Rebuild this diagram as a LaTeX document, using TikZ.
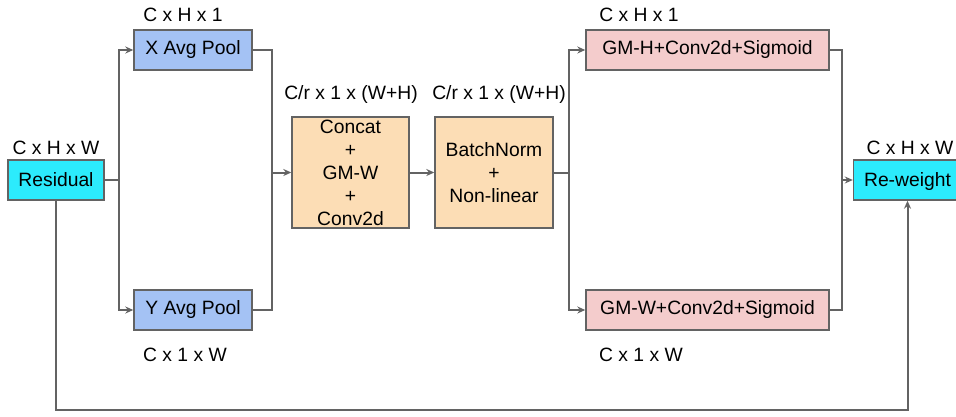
\documentclass[tikz,border=0pt]{standalone}
\usepackage{fontspec}
\setmainfont{Liberation Sans}
\usetikzlibrary{arrows.meta}
\definecolor{cyanbox}{HTML}{2CEBFC}
\definecolor{bluebox}{HTML}{A4C2F4}
\definecolor{orangebox}{HTML}{FCDDB5}
\definecolor{pinkbox}{HTML}{F4CCCC}
\definecolor{linegray}{HTML}{636363}
\begin{document}
\begin{tikzpicture}[x=1pt,y=-1pt,
  box/.style={draw=linegray,line width=1.4pt,inner sep=0pt,align=center,
    font=\fontsize{19.3}{23}\selectfont},
  lbl/.style={inner sep=0pt,font=\fontsize{19.3}{23}\selectfont},
  conn/.style={draw=linegray,line width=2pt},
  arr/.style={conn,-{Stealth[length=8pt,width=7pt]}}]
\useasboundingbox (0,0) rectangle (956,416);
\node[box,fill=cyanbox,minimum width=96pt,minimum height=40pt] (res) at (56,180) {Residual};
\node[box,fill=bluebox,minimum width=118pt,minimum height=40pt] (xp) at (193,50) {X Avg Pool};
\node[box,fill=bluebox,minimum width=118pt,minimum height=40pt] (yp) at (193,310) {Y Avg Pool};
\node[box,fill=orangebox,minimum width=117pt,minimum height=111pt] (cc) at (350.5,172.5) {Concat\\+\\GM-W\\+\\Conv2d};
\node[box,fill=orangebox,minimum width=118pt,minimum height=111pt] (bn) at (494,172.5) {BatchNorm\\+\\Non-linear};
\node[box,fill=pinkbox,minimum width=243pt,minimum height=40pt] (gh) at (707.5,50) {GM-H+Conv2d+Sigmoid};
\node[box,fill=pinkbox,minimum width=243pt,minimum height=40pt] (gw) at (707.5,310) {GM-W+Conv2d+Sigmoid};
\node[box,fill=cyanbox,minimum width=108pt,minimum height=40pt,text depth=0pt] (rw) at (907.5,180) {Re-weight};
% labels
\node[lbl] (l1) at (56,148) {C x H x W};
\node[lbl] (l2) at (183,15) {C x H x 1};
\node[lbl] (l3) at (185,355) {C x 1 x W};
\node[lbl] (l4) at (351,95) {C/r x 1 x (W+H)};
\node[lbl] (l5) at (499,95) {C/r x 1 x (W+H)};
\node[lbl] (l6) at (639,15) {C x H x 1};
\node[lbl] (l7) at (641,355) {C x 1 x W};
\node[lbl] (l8) at (910,148) {C x H x W};
% coordinates
\coordinate (s1) at (119,180);
\coordinate (m1) at (272,172.5);
\coordinate (s2) at (569,172.5);
\coordinate (m2) at (842,180);
\coordinate (b1) at (56,410);
\coordinate (b2) at (907.5,410);
% connectors
\draw[conn] (res.east) -- (s1);
\draw[arr] (s1) |- (xp.west);
\draw[arr] (s1) |- (yp.west);
\draw[conn] (xp.east) -| (m1);
\draw[conn] (yp.east) -| (m1);
\draw[arr] (m1) -- (cc.west);
\draw[arr] (cc.east) -- (bn.west);
\draw[conn] (bn.east) -- (s2);
\draw[arr] (s2) |- (gh.west);
\draw[arr] (s2) |- (gw.west);
\draw[conn] (gh.east) -| (m2);
\draw[conn] (gw.east) -| (m2);
\draw[arr] (m2) -- (rw.west);
\draw[arr] (res.south) -- (b1) -- (b2) -- (rw.south);
\end{tikzpicture}
\end{document}
